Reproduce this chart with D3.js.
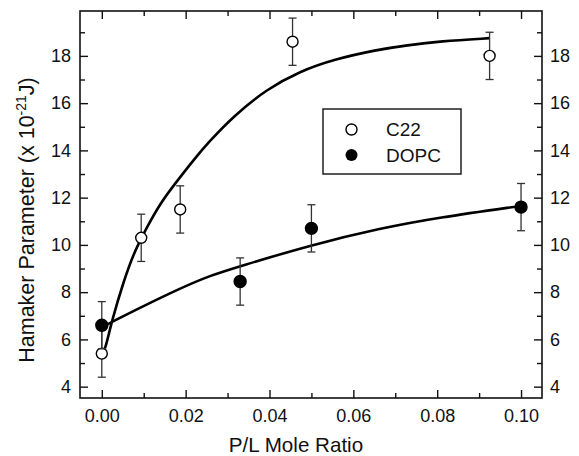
<html>
<head>
    <script src="https://d3js.org/d3.v7.min.js"></script>
    <style>
        body { margin: 0; background: #fff; }
        text { font-family: "Liberation Sans", Arial, sans-serif; fill: #111; }
    </style>
</head>
<body>
    <svg id="chart" width="579" height="456"></svg>
    <script>
        // measured points (P/L mole ratio, Hamaker parameter, error)
        var c22X = [0.000, 0.0094, 0.0187, 0.0455, 0.0925];
        var c22Y = [5.4, 10.3, 11.5, 18.6, 18.0];
        var c22Err = [1, 1, 1, 1, 1];

        var dopcX = [0.000, 0.033, 0.050, 0.100];
        var dopcY = [6.6, 8.45, 10.7, 11.6];
        var dopcErr = [1, 1, 1, 1];

        // fitted curves
        var c22FitX = [0, 0.0008, 0.0024, 0.0052, 0.0075, 0.0103, 0.0139, 0.0175, 0.0219, 0.0255, 0.0314, 0.0394, 0.0473, 0.0553, 0.0656, 0.0728, 0.0807, 0.0925];
        var c22FitY = [5.35, 5.55, 6.8, 8.45, 9.6, 10.6, 11.75, 12.6, 13.6, 14.35, 15.45, 16.6, 17.35, 17.85, 18.26, 18.45, 18.62, 18.75];
        var dopcFitX = [0.001, 0.003, 0.0187, 0.0258, 0.033, 0.050, 0.0664, 0.080, 0.100];
        var dopcFitY = [6.6, 6.8, 8.17, 8.7, 9.1, 10.0, 10.7, 11.15, 11.65];

        var xTicks = [0, 0.02, 0.04, 0.06, 0.08, 0.10];
        var xMinor = [0.01, 0.03, 0.05, 0.07, 0.09];
        var yTicks = [4, 6, 8, 10, 12, 14, 16, 18];
        var yMinor = [5, 7, 9, 11, 13, 15, 17, 19];

        var margin = { top: 11, right: 37, bottom: 58, left: 80 };
        var width = 579 - margin.left - margin.right;
        var height = 456 - margin.top - margin.bottom;

        var svg = d3.select("#chart");
        var g = svg.append("g").attr("transform", "translate(" + margin.left + "," + margin.top + ")");

        var x = d3.scaleLinear().domain([-0.0052, 0.105]).range([0, width]);
        var y = d3.scaleLinear().domain([3.52, 19.9]).range([height, 0]);

        function styleAxis(sel) {
            sel.select(".domain").remove();
            sel.selectAll("line").attr("stroke", "#111").attr("stroke-width", 1.4);
            sel.selectAll("text").style("font-size", "18px").attr("fill", "#111");
        }

        // major ticks
        g.append("g").attr("transform", "translate(0," + height + ")")
            .call(d3.axisBottom(x).tickValues(xTicks).tickSizeInner(-8).tickSizeOuter(0).tickPadding(11).tickFormat(d3.format(".2f")))
            .call(styleAxis);
        g.append("g")
            .call(d3.axisTop(x).tickValues(xTicks).tickSizeInner(-8).tickSizeOuter(0).tickFormat(""))
            .call(styleAxis);
        g.append("g")
            .call(d3.axisLeft(y).tickValues(yTicks).tickSizeInner(-8).tickSizeOuter(0).tickPadding(9))
            .call(styleAxis);
        g.append("g").attr("transform", "translate(" + width + ",0)")
            .call(d3.axisRight(y).tickValues(yTicks).tickSizeInner(-8).tickSizeOuter(0).tickPadding(8))
            .call(styleAxis);

        // minor ticks
        g.append("g").attr("transform", "translate(0," + height + ")")
            .call(d3.axisBottom(x).tickValues(xMinor).tickSizeInner(-5).tickSizeOuter(0).tickFormat(""))
            .call(styleAxis);
        g.append("g")
            .call(d3.axisTop(x).tickValues(xMinor).tickSizeInner(-5).tickSizeOuter(0).tickFormat(""))
            .call(styleAxis);
        g.append("g")
            .call(d3.axisLeft(y).tickValues(yMinor).tickSizeInner(-5).tickSizeOuter(0).tickFormat(""))
            .call(styleAxis);
        g.append("g").attr("transform", "translate(" + width + ",0)")
            .call(d3.axisRight(y).tickValues(yMinor).tickSizeInner(-5).tickSizeOuter(0).tickFormat(""))
            .call(styleAxis);

        // frame
        g.append("rect").attr("width", width).attr("height", height)
            .attr("fill", "none").attr("stroke", "#111").attr("stroke-width", 1.6);

        // fitted lines
        var line = d3.line()
            .x((d) => x(d[0]))
            .y((d) => y(d[1]))
            .curve(d3.curveBasis);

        g.append("path").datum(d3.zip(c22FitX, c22FitY))
            .attr("d", line).attr("fill", "none").attr("stroke", "#000").attr("stroke-width", 2.6);
        g.append("path").datum(d3.zip(dopcFitX, dopcFitY))
            .attr("d", line).attr("fill", "none").attr("stroke", "#000").attr("stroke-width", 2.6);

        function drawSeries(xs, ys, errs, filled) {
            var data = d3.zip(xs, ys, errs);
            var eb = g.append("g").selectAll("g").data(data).enter().append("g")
                .attr("stroke", "#333").attr("stroke-width", 1.3);
            eb.append("line")
                .attr("x1", (d) => x(d[0])).attr("x2", (d) => x(d[0]))
                .attr("y1", (d) => y(d[1] - d[2])).attr("y2", (d) => y(d[1] + d[2]));
            eb.append("line")
                .attr("x1", (d) => x(d[0]) - 4).attr("x2", (d) => x(d[0]) + 4)
                .attr("y1", (d) => y(d[1] + d[2])).attr("y2", (d) => y(d[1] + d[2]));
            eb.append("line")
                .attr("x1", (d) => x(d[0]) - 4).attr("x2", (d) => x(d[0]) + 4)
                .attr("y1", (d) => y(d[1] - d[2])).attr("y2", (d) => y(d[1] - d[2]));

            g.append("g").selectAll("circle").data(data).enter().append("circle")
                .attr("cx", (d) => x(d[0])).attr("cy", (d) => y(d[1]))
                .attr("r", filled ? 6 : 5.5)
                .attr("fill", filled ? "#000" : "#fff")
                .attr("stroke", "#000").attr("stroke-width", 1.4);
        }
        drawSeries(c22X, c22Y, c22Err, false);
        drawSeries(dopcX, dopcY, dopcErr, true);

        // legend
        var lg = svg.append("g").attr("transform", "translate(323,109)");
        lg.append("rect").attr("width", 138).attr("height", 65)
            .attr("fill", "#fff").attr("stroke", "#111").attr("stroke-width", 1.4);
        lg.append("circle").attr("cx", 28.5).attr("cy", 20.5).attr("r", 5.5)
            .attr("fill", "#fff").attr("stroke", "#000").attr("stroke-width", 1.4);
        lg.append("text").attr("x", 63).attr("y", 27).style("font-size", "19px").text("C22");
        lg.append("circle").attr("cx", 28.5).attr("cy", 46).attr("r", 6).attr("fill", "#000");
        lg.append("text").attr("x", 63).attr("y", 53).style("font-size", "19px").text("DOPC");

        // axis titles
        svg.append("text")
            .attr("x", 296).attr("y", 452)
            .attr("text-anchor", "middle").style("font-size", "20.6px")
            .text("P/L Mole Ratio");

        var yt = svg.append("text")
            .attr("transform", "translate(34,220) rotate(-90)")
            .attr("text-anchor", "middle").style("font-size", "21.5px");
        yt.append("tspan").text("Hamaker Parameter (x 10");
        yt.append("tspan").attr("dy", -8).style("font-size", "14px").text("-21");
        yt.append("tspan").attr("dy", 8).text("J)");
    </script>
</body>
</html>
